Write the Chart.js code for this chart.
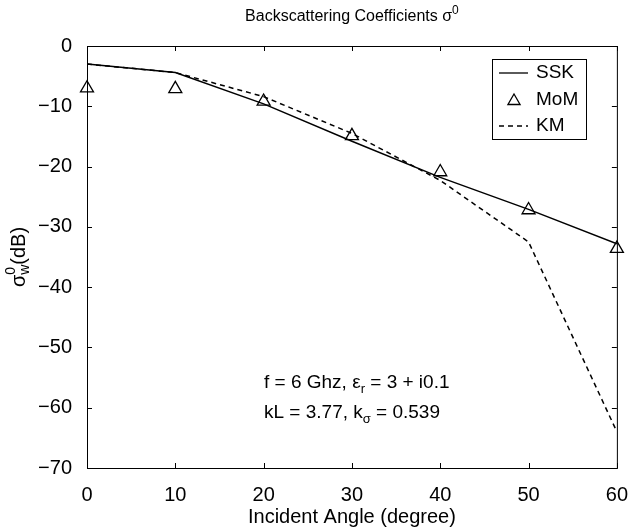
<!DOCTYPE html>
<html>
<head>
<meta charset="utf-8">
<script src="https://cdn.jsdelivr.net/npm/chart.js@4.4.0/dist/chart.umd.min.js"></script>
<style>
  html, body { margin: 0; padding: 0; background: #fff; }
</style>
</head>
<body>
<canvas id="c" width="635" height="531"></canvas>
<script>
// datos
const angles = [0, 10, 20, 30, 40, 50, 60];
const ssk = [-3.0, -4.4, -9.6, -15.8, -21.8, -27.1, -32.8];
const mom = [-7.0, -7.1, -9.2, -14.9, -20.9, -27.2, -33.6];
const km  = [-3.0, -4.4, -8.4, -14.5, -22.3, -32.5, -64.0];
const xTicks = [0, 10, 20, 30, 40, 50, 60];
const yTicks = [0, -10, -20, -30, -40, -50, -60, -70];

const FONT = '"Liberation Sans", Arial, Helvetica, sans-serif';
const pts = ys => angles.map((a, i) => ({ x: a, y: ys[i] }));

// texto con sub/superindices: parts = [{t, size, dy, stay}]
function drawRich(ctx, x, y, parts, align){
  let w = 0, hold = 0;
  parts.forEach(p => {
    ctx.font = p.size + 'px ' + FONT;
    const m = ctx.measureText(p.t).width;
    if (p.stay) { hold = Math.max(hold, m); }
    else { w += Math.max(m, hold); hold = 0; }
  });
  let cx = align === 'center' ? x - w / 2 : x;
  hold = 0;
  ctx.textBaseline = 'middle';
  ctx.textAlign = 'left';
  parts.forEach(p => {
    ctx.font = p.size + 'px ' + FONT;
    const m = ctx.measureText(p.t).width;
    ctx.fillText(p.t, cx, y + (p.dy || 0));
    if (p.stay) { hold = Math.max(hold, m); }
    else { cx += Math.max(m, hold); hold = 0; }
  });
}

function triangle(ctx, x, y, r){
  ctx.beginPath();
  ctx.moveTo(x, y - r);
  ctx.lineTo(x + r * 0.866, y + r * 0.5);
  ctx.lineTo(x - r * 0.866, y + r * 0.5);
  ctx.closePath();
  ctx.stroke();
}

const decor = {
  id: 'decor',
  afterDraw(chart){
    const ctx = chart.ctx, a = chart.chartArea;
    const sx = chart.scales.x, sy = chart.scales.y;
    ctx.save();
    ctx.fillStyle = '#000';
    ctx.strokeStyle = '#000';
    ctx.lineWidth = 1;
    ctx.setLineDash([]);
    // caja y marcas hacia dentro
    ctx.strokeRect(a.left + 0.5, a.top + 0.5, a.right - a.left, a.bottom - a.top);
    ctx.beginPath();
    const tl = 5;
    xTicks.forEach(v => {
      const px = Math.round(sx.getPixelForValue(v)) + 0.5;
      ctx.moveTo(px, a.bottom); ctx.lineTo(px, a.bottom - tl);
      ctx.moveTo(px, a.top); ctx.lineTo(px, a.top + tl);
    });
    yTicks.forEach(v => {
      const py = Math.round(sy.getPixelForValue(v)) + 0.5;
      ctx.moveTo(a.left, py); ctx.lineTo(a.left + tl, py);
      ctx.moveTo(a.right, py); ctx.lineTo(a.right - tl, py);
    });
    ctx.stroke();

    // titulo
    drawRich(ctx, (a.left + a.right) / 2, 17, [
      { t: 'Backscattering Coefficients \u03c3', size: 16 },
      { t: '0', size: 12, dy: -6 }
    ], 'center');

    // etiqueta eje y (rotada)
    ctx.save();
    ctx.translate(19, (a.top + a.bottom) / 2);
    ctx.rotate(-Math.PI / 2);
    drawRich(ctx, 0, 0, [
      { t: '\u03c3', size: 20 },
      { t: '0', size: 14, dy: -8, stay: true },
      { t: 'w', size: 14, dy: 6 },
      { t: '(dB)', size: 20 }
    ], 'center');
    ctx.restore();

    // anotacion
    drawRich(ctx, 264, 383, [
      { t: 'f = 6 Ghz, \u03b5', size: 19 },
      { t: 'r', size: 13, dy: 6 },
      { t: ' = 3 + i0.1', size: 19 }
    ], 'left');
    drawRich(ctx, 264, 413, [
      { t: 'kL = 3.77, k', size: 19 },
      { t: '\u03c3', size: 13, dy: 6 },
      { t: ' = 0.539', size: 19 }
    ], 'left');

    // leyenda
    const lx = 492, ly = 59, lw = 94, lh = 80;
    ctx.fillStyle = '#fff';
    ctx.fillRect(lx, ly, lw, lh);
    ctx.strokeRect(lx + 0.5, ly + 0.5, lw, lh);
    ctx.fillStyle = '#000';
    const rows = [
      { name: 'SSK', y: 73, kind: 'solid' },
      { name: 'MoM', y: 100, kind: 'tri' },
      { name: 'KM', y: 126, kind: 'dash' }
    ];
    rows.forEach(r => {
      ctx.lineWidth = 1.3;
      if (r.kind === 'tri') {
        triangle(ctx, 514, r.y + 1, 7);
      } else {
        ctx.setLineDash(r.kind === 'dash' ? [5, 4] : []);
        ctx.beginPath();
        ctx.moveTo(499, r.y); ctx.lineTo(528, r.y);
        ctx.stroke();
        ctx.setLineDash([]);
      }
      ctx.font = '19px ' + FONT;
      ctx.textAlign = 'left';
      ctx.textBaseline = 'middle';
      ctx.fillText(r.name, 536, r.y);
    });
    ctx.restore();
  }
};

new Chart(document.getElementById('c'), {
  type: 'line',
  data: {
    datasets: [
      { label: 'SSK', data: pts(ssk), borderColor: '#000', borderWidth: 1.5, pointRadius: 0, tension: 0 },
      { label: 'MoM', data: pts(mom), showLine: false, pointStyle: 'triangle', pointRadius: 7.5,
        pointBorderWidth: 1.3, pointBorderColor: '#000', pointBackgroundColor: 'rgba(0,0,0,0)', clip: false },
      { label: 'KM', data: pts(km), borderColor: '#000', borderWidth: 1.5, borderDash: [5, 4], pointRadius: 0, tension: 0 }
    ]
  },
  options: {
    responsive: false,
    animation: false,
    devicePixelRatio: 1,
    layout: { padding: { top: 46, right: 12, left: 0, bottom: 0 } },
    plugins: { legend: { display: false }, tooltip: { enabled: false }, title: { display: false } },
    scales: {
      x: {
        type: 'linear', min: 0, max: 60,
        grid: { display: false }, border: { display: false },
        ticks: { stepSize: 10, color: '#000', font: { family: FONT, size: 20 }, padding: 7, maxRotation: 0 },
        title: { display: true, text: 'Incident Angle (degree)', color: '#000', font: { family: FONT, size: 20 }, padding: { top: 0, bottom: 2 } },
        afterFit: s => { s.height = 63; }
      },
      y: {
        type: 'linear', min: -70, max: 0,
        grid: { display: false }, border: { display: false },
        ticks: { stepSize: 10, color: '#000', font: { family: FONT, size: 20 }, padding: 7,
          callback: v => String(v).replace('-', '\u2212') },
        afterFit: s => { s.width = 87; }
      }
    }
  },
  plugins: [decor]
});
</script>
</body>
</html>
